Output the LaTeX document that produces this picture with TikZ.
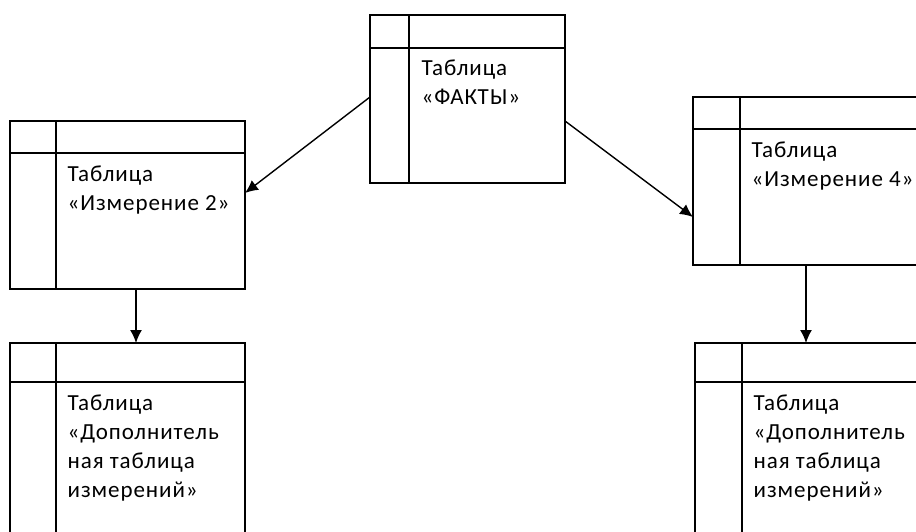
\documentclass[tikz,border=0pt]{standalone}
\usepackage{fontspec}
\setmainfont[LetterSpace=4]{Carlito}
\usepackage{tikz}
\usetikzlibrary{arrows.meta,positioning,calc}

\begin{document}
\begin{tikzpicture}[x=1pt,y=1pt,line width=1.4pt,>={Latex[length=13pt,width=12pt]},
  tbl/.style={draw,rectangle,minimum width=235,minimum height=168,inner sep=0,outer sep=0},
  txt/.style={anchor=north west,align=left,inner sep=0,font=\fontsize{23}{29}\selectfont}]
\clip (0,0) rectangle (916,-532);

\node[tbl,minimum width=195] (fakt) at (467.5,-99) {};
\node[tbl] (izm2) at (127.5,-205) {};
\node[tbl] (izm4) at (810.5,-181) {};
\node[tbl,minimum height=220] (dop2) at (127.5,-453) {};
\node[tbl,minimum height=220] (dop4) at (812.5,-453) {};

% header lines and key columns
\draw ([yshift=-33]fakt.north west) -- ([yshift=-33]fakt.north east);
\draw ([xshift=39]fakt.north west) -- ([xshift=39]fakt.south west);
\draw ([yshift=-32]izm2.north west) -- ([yshift=-32]izm2.north east);
\draw ([xshift=46]izm2.north west) -- ([xshift=46]izm2.south west);
\draw ([yshift=-32]izm4.north west) -- ([yshift=-32]izm4.north east);
\draw ([xshift=47]izm4.north west) -- ([xshift=47]izm4.south west);
\draw ([yshift=-39]dop2.north west) -- ([yshift=-39]dop2.north east);
\draw ([xshift=46]dop2.north west) -- ([xshift=46]dop2.south west);
\draw ([yshift=-39]dop4.north west) -- ([yshift=-39]dop4.north east);
\draw ([xshift=47]dop4.north west) -- ([xshift=47]dop4.south west);

\node[txt] (fakt-t) at ([shift={(51,-44)}]fakt.north west) {Таблица\\«ФАКТЫ»};
\node[txt] (izm2-t) at ([shift={(57,-44)}]izm2.north west) {Таблица\\«Измерение 2»};
\node[txt] (izm4-t) at ([shift={(58,-44)}]izm4.north west) {Таблица\\«Измерение 4»};
\node[txt] (dop2-t) at ([shift={(57,-51)}]dop2.north west) {Таблица\\«Дополнитель\\ная таблица\\измерений»};
\node[txt] (dop4-t) at ([shift={(58,-51)}]dop4.north west) {Таблица\\«Дополнитель\\ная таблица\\измерений»};

\draw[->] ([yshift=2]fakt.west) -- ([yshift=12]izm2.east);
\draw[->] ([yshift=-22]fakt.east) -- ([yshift=-36]izm4.west);
\draw[->] ([xshift=8.5]izm2.south) -- ([xshift=8.5]dop2.north);
\draw[->] ([xshift=-4.5]izm4.south) -- ([xshift=-6.5]dop4.north);
\end{tikzpicture}
\end{document}
